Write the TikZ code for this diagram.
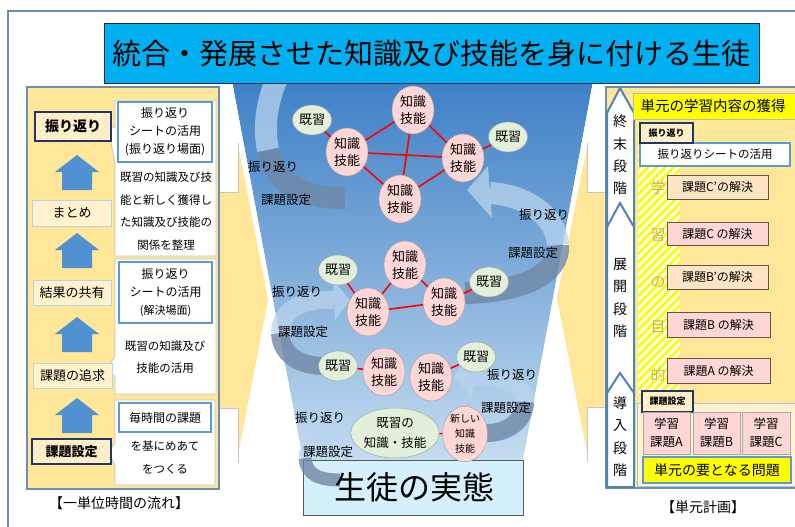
\documentclass[tikz,border=0pt]{standalone}
\usepackage{fontspec}
\setmainfont{Noto Sans CJK JP}
\usetikzlibrary{patterns.meta,shapes.geometric}
\definecolor{frameblue}{RGB}{110,140,180}
\definecolor{panelyellow}{RGB}{255,230,153}
\definecolor{cream}{RGB}{255,242,204}
\definecolor{titlecyan}{RGB}{0,176,240}
\definecolor{navy}{RGB}{31,56,100}
\definecolor{arrowblue}{RGB}{80,145,210}
\definecolor{boxblue}{RGB}{91,155,213}
\definecolor{pinkfill}{RGB}{255,214,214}
\definecolor{greenfill}{RGB}{226,239,218}
\definecolor{peach}{RGB}{252,228,196}
\definecolor{funneltop}{RGB}{58,125,196}
\definecolor{funnelbot}{RGB}{196,220,240}
\definecolor{ribbonlight}{RGB}{185,212,238}
\definecolor{ribbongray}{RGB}{112,136,166}
\definecolor{statecyan}{RGB}{212,240,250}
\definecolor{purposetext}{RGB}{195,180,95}
\definecolor{taskborder}{RGB}{95,85,75}
\definecolor{pureyellow}{RGB}{255,255,0}
\newcommand\myfs[2]{\fontsize{#1}{#2}\selectfont}
\tikzset{
  flowbox/.style={draw=boxblue!45, fill=cream, line width=0.8pt, inner sep=0, font=\myfs{13}{16}},
  hatchbox/.style={draw=navy, line width=1.5pt, inner sep=0, preaction={fill=cream},
    pattern={Lines[angle=45,distance=4pt,line width=0.5pt]}, pattern color=orange!35},
  infobox/.style={draw=boxblue, line width=2.5pt, fill=white, inner sep=0, align=center, font=\myfs{12}{18}},
  calloutshape/.style={fill=white, draw=gray!45, line width=0.8pt},
  plain/.style={inner sep=0, align=center},
  know/.style={ellipse, fill=pinkfill, draw=gray!70, line width=0.5pt, inner sep=0, align=center,
    font=\myfs{13}{17}, minimum width=42, minimum height=48},
  prior/.style={ellipse, fill=greenfill, draw=gray!70, line width=0.5pt, inner sep=0,
    minimum width=39, minimum height=30, font=\myfs{13}{16}},
  link/.style={draw=red, line width=1.6pt},
  ribL/.style={draw=ribbonlight, opacity=0.75},
  ribG/.style={draw=ribbongray, opacity=0.8},
  ribHead/.style={fill=ribbonlight, opacity=0.75},
  flab/.style={inner sep=0, font=\myfs{12.5}{15}},
  taskbox/.style={draw=taskborder, line width=0.8pt, inner sep=0, font=\myfs{12}{15}},
  stagetext/.style={inner sep=0, align=center, font=\myfs{14}{22.4}},
  purpose/.style={inner sep=0, text=purposetext, font=\myfs{15}{18}},
  caption/.style={inner sep=0, font=\myfs{14}{17}}
}
\begin{document}
\begin{tikzpicture}[x=1pt,y=-1pt]
\useasboundingbox (0,0) rectangle (795,527);
\clip (0,0) rectangle (795,527);
\fill[white] (0,0) rectangle (795,527);
% outer frame
\draw[frameblue, line width=2pt] (8,540) -- (8,11) -- (805,11);

% side yellow arrows
\fill[panelyellow] (200,192) -- (238,192) -- (238,145) -- (268,300) -- (238,455) -- (238,408) -- (200,408) -- cycle;
\draw[gray!45, line width=0.8pt] (238,143) -- (238,192) -- (219,192);
\draw[gray!45, line width=0.8pt] (219,408) -- (238,408) -- (238,463);
\fill[panelyellow] (625,192) -- (587,192) -- (587,147) -- (557,298) -- (587,453) -- (587,407) -- (625,407) -- cycle;
\draw[gray!45, line width=0.8pt] (587,143) -- (587,192) -- (606,192);
\draw[gray!45, line width=0.8pt] (606,407) -- (587,407) -- (587,462);

% ---------------- left panel ----------------
\draw[frameblue, line width=2pt, fill=panelyellow] (27,87) rectangle (219,489);
\draw[calloutshape] (115,101) -- (216,101) -- (216,256) -- (115,256) -- (115,163) -- (107,123) -- (115,128) -- cycle;
\draw[calloutshape] (115,259) -- (216,259) -- (216,394) -- (115,394) -- (115,377) -- (107,367) -- (115,357) -- cycle;
\draw[calloutshape] (115,400) -- (215,400) -- (215,485) -- (115,485) -- (115,465) -- (108,452) -- (115,443) -- cycle;

\node[infobox, minimum width=94, minimum height=60] (sheet1) at (165,132) {振り返り\\シートの活用\\(振り返り場面)};
\node[plain, font=\myfs{11.5}{22.7}] (txt1) at (166,211) {既習の知識及び技\\能と新しく獲得し\\た知識及び技能の\\関係を整理};
\node[infobox, minimum width=93, minimum height=61] (sheet2) at (165.5,292.5) {振り返り\\シートの活用\\{\myfs{11}{18}(解決場面)}};
\node[plain, font=\myfs{11.5}{22.5}] (txt2) at (165,357) {既習の知識及び\\技能の活用};
\node[infobox, minimum width=92, minimum height=29] (sheet3) at (165,417.5) {毎時間の課題};
\node[plain, font=\myfs{11.5}{23}] (txt3) at (165,457.5) {を基にめあて\\をつくる};

\node[hatchbox, minimum width=76, minimum height=29, font=\bfseries\myfs{14}{16}] (furi) at (73,126.5) {振り返り};
\node[flowbox, minimum width=79, minimum height=26] (matome) at (72,213) {まとめ};
\node[flowbox, minimum width=78, minimum height=25] (kyoyu) at (72,292.5) {結果の共有};
\node[flowbox, minimum width=79, minimum height=25] (tsuikyu) at (72.5,375.5) {課題の追求};
\node[hatchbox, minimum width=79, minimum height=25, font=\bfseries\myfs{13}{16}] (settei) at (71.5,451.5) {課題設定};
\foreach \t in {155,233,317,398}
  \fill[arrowblue] (77,\t) -- (99,{\t+17}) -- (92,{\t+17}) -- (92,{\t+35}) -- (62,{\t+35}) -- (62,{\t+17}) -- (55,{\t+17}) -- cycle;
\node[caption] (capL) at (119,503) {【一単位時間の流れ】};

% ---------------- funnel ----------------
\shade[top color=funneltop, bottom color=funnelbot] (230,70) -- (595,70) -- (523,460) -- (303,460) -- cycle;
\draw[white, line width=1.5pt] (229,70) -- (302,460);
\draw[white, line width=1.5pt] (596,70) -- (524,460);

% ribbons
\draw[ribL, line width=22pt] (278,76) .. controls (265,105) and (264,130) .. (268,150);
\draw[ribG, line width=22pt] (268,150) .. controls (275,185) and (305,198) .. (345,198);

\draw[ribG, line width=22pt] (465,293) .. controls (520,292) and (560,275) .. (558,245);
\draw[ribL, line width=22pt] (558,245) .. controls (556,215) and (525,195) .. (490,193);
\fill[ribHead] (488,166) -- (467,190) -- (492,218) -- cycle;

\draw[ribL, line width=18pt] (334,300) .. controls (300,298) and (280,312) .. (280,333);
\draw[ribG, line width=18pt] (280,333) .. controls (281,355) and (300,366) .. (325,366);
\fill[ribHead] (333,280) -- (350,300) -- (335,320) -- cycle;

\draw[ribL, line width=18pt] (473,377) .. controls (500,375) and (525,385) .. (525,402);
\draw[ribG, line width=18pt] (525,402) .. controls (525,420) and (508,433) .. (487,433);
\fill[ribHead] (473,354) -- (453,377) -- (473,398) -- cycle;

% bottom box
\draw[draw=gray!70!black, line width=1pt, fill=statecyan] (303,460) rectangle (523,515);
\draw[ribL, line width=13pt] (338,437) .. controls (320,437) and (305,445) .. (305,458);
\draw[ribG, line width=13pt] (305,458) .. controls (306,475) and (320,480) .. (340,480);
\fill[ribHead] (337,427) -- (350,437) -- (337,447) -- cycle;
\node[inner sep=0, font=\myfs{32}{36}] (jittai) at (414,487.5) {生徒の実態};

% ribbon labels
\node[flab] (l1a) at (273,167) {振り返り};
\node[flab] (l1b) at (286,200) {課題設定};
\node[flab] (l2a) at (544,215) {振り返り};
\node[flab] (l2b) at (533,253) {課題設定};
\node[flab] (l3a) at (297,292) {振り返り};
\node[flab] (l3b) at (303,332) {課題設定};
\node[flab] (l4a) at (512,375) {振り返り};
\node[flab] (l4b) at (506,408) {課題設定};
\node[flab] (l5a) at (320,418) {振り返り};
\node[flab] (l5b) at (328,452) {課題設定};

% knowledge nodes, top group
\node[prior] (p1) at (312,120) {既習};
\node[know] (k1) at (347,152) {知識\\技能};
\node[know] (k2) at (413,110) {知識\\技能};
\node[know] (k3) at (463,158) {知識\\技能};
\node[know] (k4) at (400,199) {知識\\技能};
\node[prior] (p2) at (508,137) {既習};
\draw[link] (p1) -- (k1);
\draw[link] (k1) -- (k2);
\draw[link] (k1) -- (k3);
\draw[link] (k1) -- (k4);
\draw[link] (k2) -- (k3);
\draw[link] (k2) -- (k4);
\draw[link] (k3) -- (k4);
\draw[link] (k3) -- (p2);
% middle group
\node[prior] (p3) at (338,270) {既習};
\node[know] (k5) at (368,312) {知識\\技能};
\node[know] (k6) at (405,265) {知識\\技能};
\node[know] (k7) at (444,302) {知識\\技能};
\node[prior] (p4) at (489,282) {既習};
\draw[link] (p3) -- (k5);
\draw[link] (k5) -- (k6);
\draw[link] (k6) -- (k7);
\draw[link] (k5) -- (k7);
\draw[link] (k7) -- (p4);
% lower group
\node[prior] (p5) at (338,366) {既習};
\node[know] (k8) at (384,372) {知識\\技能};
\node[know] (k9) at (431,377) {知識\\技能};
\node[prior] (p6) at (476,357) {既習};
\draw[link] (p5) -- (k8);
\draw[link] (k9) -- (p6);
% bottom group
\node[prior, align=center, minimum width=80, minimum height=50, font=\myfs{12.5}{20}] (p7) at (395,433) {既習の\\知識・技能};
\node[know, minimum width=45, minimum height=52, font=\myfs{10}{15}] (k10) at (465,434) {新しい\\知識\\技能};
\draw[link] (p7) -- (k10);

% ---------------- right panel ----------------
\draw[frameblue, line width=2pt, fill=panelyellow] (606,87) rectangle (810,488);
\draw[boxblue!85!black, line width=2pt, fill=white] (607,113) -- (620,88) -- (634,113) -- (634,487) -- (607,487) -- cycle;
\draw[boxblue!85!black, line width=2pt] (607,227) -- (620,203) -- (634,227);
\draw[boxblue!85!black, line width=2pt] (607,393) -- (620,373) -- (634,393);
\node[stagetext] (st3) at (620,155) {終\\末\\段\\階};
\node[stagetext] (st2) at (620,298) {展\\開\\段\\階};
\node[stagetext] (st1) at (620,436.5) {導\\入\\段\\階};

\node[draw=gray!55, line width=0.8pt, fill=pureyellow, inner sep=0, minimum width=170, minimum height=26, font=\myfs{14.5}{17}] (goal) at (718,106) {\hspace*{-5pt}単元の学習内容の獲得\hspace*{5pt}};
\fill[yellow!8] (638,123) rectangle (680,393);
\fill[pattern={Lines[angle=45,distance=6pt,line width=2.6pt]}, pattern color=yellow!95!orange] (638,123) rectangle (680,393);
\node[purpose] (pu1) at (658,188) {学};
\node[purpose] (pu2) at (658,235) {習};
\node[purpose] (pu3) at (658,282) {の};
\node[purpose] (pu4) at (658,327) {目};
\node[purpose] (pu5) at (658,375) {的};

\node[infobox, line width=2.2pt, minimum width=150, minimum height=23, font=\myfs{11.5}{14}] (sheetR) at (715,154.5) {振り返りシートの活用};
\node[hatchbox, minimum width=53, minimum height=20, font=\bfseries\myfs{9}{11}] (furiR) at (666.5,133) {振り返り};
\node[taskbox, fill=peach, minimum width=101, minimum height=24] (tc2) at (717.5,187) {課題C’の解決};
\node[taskbox, fill=pinkfill, minimum width=101, minimum height=23] (tc) at (717.5,233.5) {課題C の解決};
\node[taskbox, fill=peach, minimum width=101, minimum height=24] (tb2) at (717.5,277) {課題B’の解決};
\node[taskbox, fill=pinkfill, minimum width=103, minimum height=25] (tb) at (718.5,324.5) {課題B の解決};
\node[taskbox, fill=pinkfill, minimum width=103, minimum height=25] (ta) at (718.5,370.5) {課題A の解決};

\draw[boxblue!55, line width=1pt, fill=cream] (637,403) rectangle (810,486);
\node[hatchbox, minimum width=51, minimum height=21, font=\bfseries\myfs{9}{11}] (setteiR) at (667.5,401.5) {課題設定};
\node[taskbox, fill=pinkfill, draw=gray!70, align=center, minimum width=47, minimum height=42, font=\myfs{12.5}{18}] (ga) at (666.5,433) {学習\\課題A};
\node[taskbox, fill=pinkfill, draw=gray!70, align=center, minimum width=47, minimum height=42, font=\myfs{12.5}{18}] (gb) at (716.5,433) {学習\\課題B};
\node[taskbox, fill=pinkfill, draw=gray!70, align=center, minimum width=48, minimum height=42, font=\myfs{12.5}{18}] (gc) at (766,433) {学習\\課題C};
\node[draw=boxblue, line width=2pt, fill=pureyellow, inner sep=0, minimum width=148, minimum height=26, font=\myfs{14}{17}] (core) at (717,470) {単元の要となる問題};
\node[caption] (capR) at (703,507) {【単元計画】};

% ---------------- title ----------------
\node[draw=navy!80!black, line width=1pt, fill=titlecyan, inner sep=0, minimum width=655, minimum height=59, font=\myfs{29}{32}] (title) at (431.5,53.5) {統合・発展させた知識及び技能を身に付ける生徒};
\end{tikzpicture}
\end{document}
